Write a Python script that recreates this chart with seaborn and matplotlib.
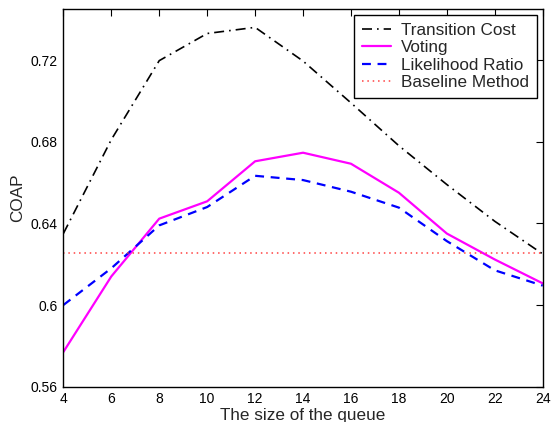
import numpy as np
import pandas as pd
import matplotlib
matplotlib.use("Agg")
import matplotlib.pyplot as plt
import seaborn as sns

queue_size = [4, 6, 8, 10, 12, 14, 16, 18, 20, 22, 24]
transition_cost = [0.635, 0.681, 0.7197, 0.733, 0.736, 0.7195, 0.699, 0.678, 0.659, 0.641, 0.625]
voting = [0.577, 0.614, 0.6423, 0.6508, 0.6704, 0.6746, 0.6692, 0.655, 0.635, 0.6223, 0.6106]
likelihood_ratio = [0.600, 0.618, 0.639, 0.648, 0.6633, 0.6612, 0.6555, 0.6477, 0.6313, 0.617, 0.6095]
baseline = [0.6253] * len(queue_size)

sns.set_style("white")
plt.rcParams["font.family"] = ["Liberation Sans", "DejaVu Sans"]

fig = plt.figure(figsize=(5.51, 4.22), dpi=100)
ax = fig.add_axes([0.115, 0.0837, 0.870, 0.895])

sns.lineplot(x=queue_size, y=transition_cost, ax=ax, color="black", lw=1.2,
             linestyle=(0, (6, 3, 1, 3)), label="Transition Cost")
sns.lineplot(x=queue_size, y=voting, ax=ax, color="#ff00ff", lw=1.6, label="Voting")
sns.lineplot(x=queue_size, y=likelihood_ratio, ax=ax, color="blue", lw=1.6,
             linestyle=(0, (4, 3)), label="Likelihood Ratio")
sns.lineplot(x=queue_size, y=baseline, ax=ax, color="#ff4040", lw=1.1,
             linestyle=(0, (1, 2.5)), label="Baseline Method")

ax.set_xlim(4, 24)
ax.set_ylim(0.56, 0.745)
ax.set_xticks(range(4, 25, 2))
ax.set_yticks([0.56, 0.6, 0.64, 0.68, 0.72])
ax.set_yticklabels(["0.56", "0.6", "0.64", "0.68", "0.72"])
ax.tick_params(direction="in", length=5, width=0.8, top=True, right=True,
               labelsize=10, pad=4, colors="black")
for s in ax.spines.values():
    s.set_color("black")
    s.set_linewidth(1.0)

ax.set_xlabel("The size of the queue", fontsize=12.3, labelpad=1)
ax.set_ylabel("COAP", fontsize=12.3, labelpad=4)

leg = ax.legend(loc="upper right", fontsize=12.3, frameon=True, fancybox=False,
                edgecolor="black", borderpad=0.45, labelspacing=0.15,
                handlelength=1.7, handletextpad=0.6, borderaxespad=0.35)
leg.get_frame().set_linewidth(1.0)
leg.get_frame().set_alpha(1)

fig.savefig("out.png", dpi=100)
